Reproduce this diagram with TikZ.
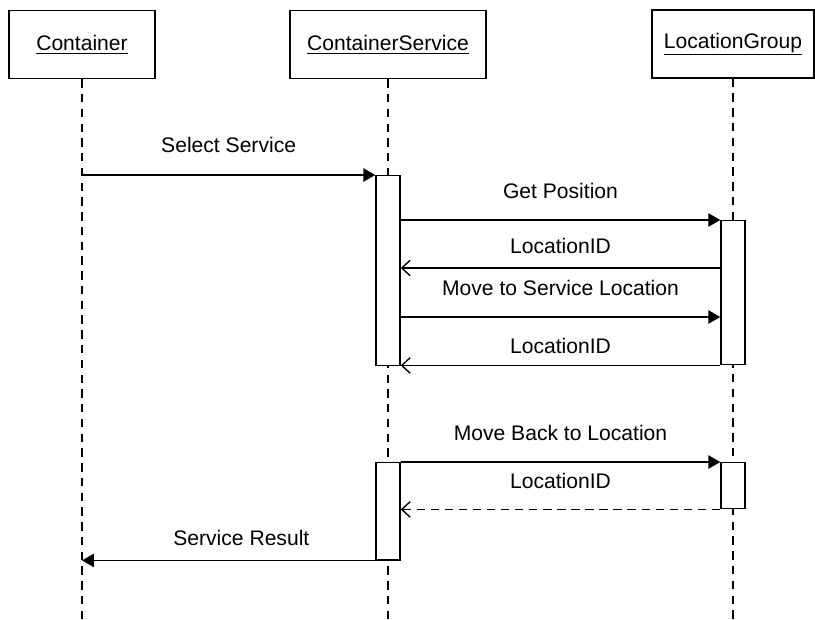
\documentclass[tikz,border=0pt]{standalone}
\usepackage{fontspec}
\setmainfont{Liberation Sans}
\usetikzlibrary{arrows.meta}

\begin{document}
\begin{tikzpicture}[x=0.025cm, y=-0.025cm, line width=1pt,
                    font=\fontsize{15}{18}\selectfont,
                    object/.style={draw, minimum width=#1, minimum height=1.7cm},
                    activation/.style={draw, fill=white, anchor=north, inner sep=0pt,
                                       minimum width=0.6cm, minimum height=#1},
                    lifeline/.style={line width=0.8pt, dash pattern=on 6pt off 4.5pt},
                    call/.style={-{Triangle[length=8.5pt,width=9.5pt]}},
                    reply/.style={-{Straight Barb[length=6pt,width=11pt]}}]

  \useasboundingbox (0,0) rectangle (815,619);
  \coordinate (bottom) at (0,619);
  \coordinate (locid1) at (0,268);
  \coordinate (movsvc) at (0,317);

  \node[object=3.65cm] (cont) at (82,44.5) {\underline{Container}};
  \node[object=4.9cm] (cs) at (388,44.5) {\underline{ContainerService}};
  \node[object=4.05cm] (lg) at (733,44) {\underline{LocationGroup}};

  % lifelines
  \foreach \obj in {cont,cs,lg}
    \draw[lifeline] (\obj.south) -- (\obj.south |- bottom);

  \node[activation=4.75cm] (cs1) at (388,175) {};
  \node[activation=3.6cm] (lg1) at (733,220) {};
  \node[activation=2.425cm] (cs2) at (388,462) {};
  \node[activation=1.15cm] (lg2) at (733,462) {};

  \path
    (cont.south |- cs1.north) edge[call] node[above=12pt] {Select Service} (cs1.north west)
    (cs1.east |- lg1.north) edge[call] node[above=11.5pt] {Get Position} (lg1.north west)
    (lg1.west |- locid1) edge[reply] node[above=6.5pt] {LocationID} (cs1.east |- locid1)
    (cs1.east |- movsvc) edge[call] node[above=11.5pt] {Move to Service Location} (lg1.west |- movsvc)
    (lg1.south west) edge[reply] node[above=4.5pt] {LocationID} (cs1.east |- lg1.south)
    (cs2.north east) edge[call] node[above=11.5pt] {Move Back to Location} (lg2.north west)
    (lg2.south west) edge[reply, dash pattern=on 6pt off 4pt] node[above=11pt] {LocationID} (cs2.east |- lg2.south)
    (cs2.south east) edge[call] node[above=6.5pt] {Service Result} (cont.south |- cs2.south);
\end{tikzpicture}
\end{document}
